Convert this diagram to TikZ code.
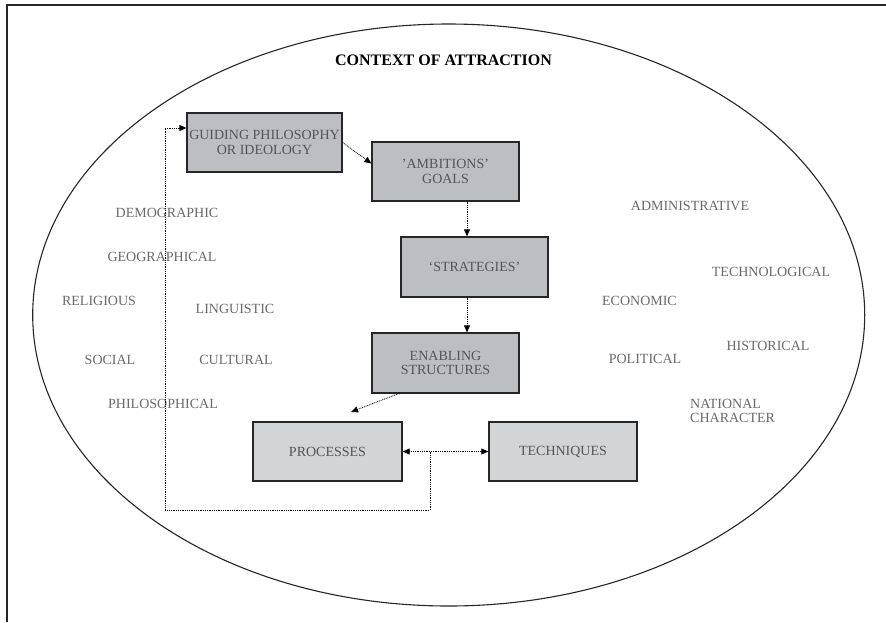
\documentclass[tikz,border=0pt]{standalone}
\usepackage{fontspec}
\setmainfont{Liberation Serif}
\usetikzlibrary{arrows.meta}
\definecolor{boxdark}{HTML}{BDBEC2}
\definecolor{boxlight}{HTML}{D3D4D6}
\definecolor{labelgray}{HTML}{6A6A6A}
\definecolor{boxtext}{HTML}{555555}
\begin{document}
\begin{tikzpicture}[x=1pt,y=-1pt,
  stagebox/.style={draw=black!85, line width=1.3pt, fill=boxdark, inner sep=0pt,
    align=center, text=boxtext, font=\fontsize{14}{14.5}\selectfont},
  lowbox/.style={stagebox, fill=boxlight},
  factor/.style={inner sep=0pt, text=labelgray, font=\fontsize{14}{14.5}\selectfont},
  conn/.style={line width=0.8pt, dash pattern=on 0.9pt off 0.9pt,
    -{Triangle[length=7pt,width=6pt]}},
  biconn/.style={conn, {Triangle[length=7pt,width=6pt]}-{Triangle[length=7pt,width=6pt]}},
  plain/.style={line width=0.8pt, dash pattern=on 0.9pt off 0.9pt}]
\useasboundingbox (0,0) rectangle (886,622);
\fill[white] (0,0) rectangle (886,622);

% outer frame (left and top edges)
\draw[line width=1.2pt, black!85] (7,622) -- (7,5) -- (886,5);

% context ellipse
\draw[line width=1.1pt, black!85] (448.7,315) ellipse [x radius=416, y radius=291];

% title
\node[inner sep=0pt, font=\fontsize{16}{17}\bfseries\selectfont] (title) at (443.5,60) {CONTEXT OF ATTRACTION};

% stages
\node[stagebox, minimum width=155pt, minimum height=59pt] (guide) at (264.5,142.5) {GUIDING PHILOSOPHY\\OR IDEOLOGY};
\node[stagebox, minimum width=147pt, minimum height=59pt] (amb) at (445.5,171.5) {'AMBITIONS'\\GOALS};
\node[stagebox, minimum width=147pt, minimum height=60pt] (strat) at (474.5,267) {`STRATEGIES'};
\node[stagebox, minimum width=147pt, minimum height=60pt] (enab) at (445.5,363) {ENABLING\\STRUCTURES};
\node[lowbox, minimum width=149pt, minimum height=59pt] (proc) at (327.5,451.5) {PROCESSES};
\node[lowbox, minimum width=148pt, minimum height=59pt] (tech) at (563,451.5) {TECHNIQUES};

% context factors, left side
\node[factor] (demo) at (167,213) {DEMOGRAPHIC};
\node[factor] (geo) at (162,257) {GEOGRAPHICAL};
\node[factor] (rel) at (99,301) {RELIGIOUS};
\node[factor] (ling) at (235,309) {LINGUISTIC};
\node[factor] (soc) at (110,360) {SOCIAL};
\node[factor] (cult) at (236,360) {CULTURAL};
\node[factor] (phil) at (163,404) {PHILOSOPHICAL};

% context factors, right side
\node[factor] (admin) at (690,206) {ADMINISTRATIVE};
\node[factor] (techn) at (771,272) {TECHNOLOGICAL};
\node[factor] (econ) at (639.5,301) {ECONOMIC};
\node[factor] (hist) at (768,346) {HISTORICAL};
\node[factor] (pol) at (645,359) {POLITICAL};
\node[factor, align=left, anchor=west, font=\fontsize{14}{14}\selectfont] (natl) at (690,411) {NATIONAL\\CHARACTER};

% flow between stages
\draw[conn] (guide.east) -- ([yshift=8pt]amb.west);
\draw[conn] (amb.south -| 467,0) -- (strat.north -| 467,0);
\draw[conn] (strat.south -| 467,0) -- (enab.north -| 467,0);
\coordinate (enabout) at (400,393);
\coordinate (procin) at (351,412);
\draw[conn] (enabout) -- (procin);
\draw[biconn] (proc.east) -- (tech.west);

% feedback loop back to the guiding philosophy
\coordinate (split) at (430,451.5);
\coordinate (loopbr) at (430,510);
\coordinate (loopbl) at (165,510);
\coordinate (looptl) at (165,128);
\draw[plain] (split) -- (loopbr) -- (loopbl) -- (looptl);
\draw[conn] (looptl) -- (looptl -| guide.west);
\end{tikzpicture}
\end{document}
